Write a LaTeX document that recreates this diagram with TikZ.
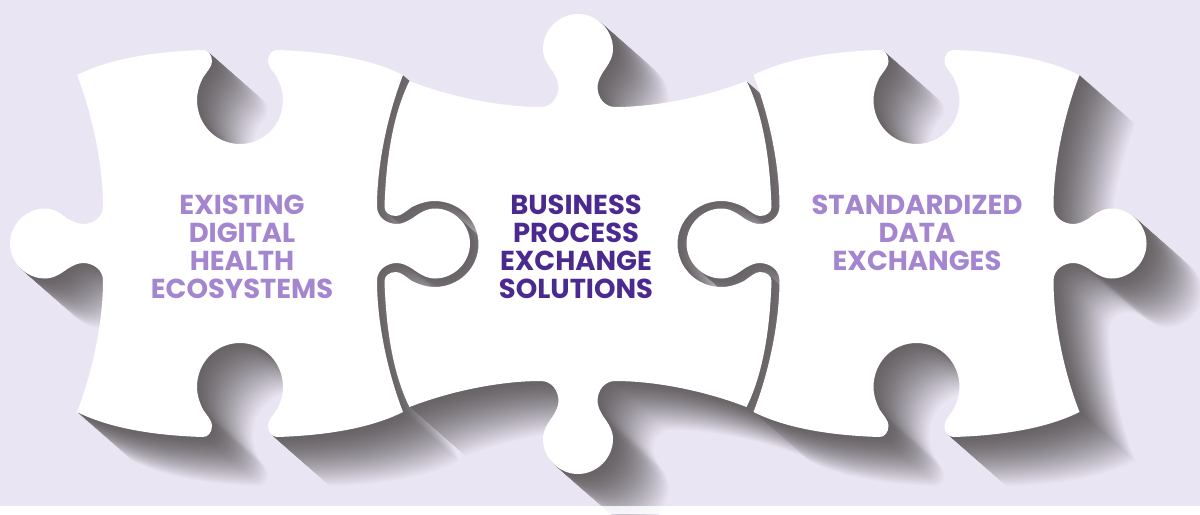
\documentclass[tikz,border=0pt]{standalone}
\usepackage{fontspec}
\setmainfont{Poppins}
\definecolor{bgl}{HTML}{EAE5F3}
\definecolor{shd}{HTML}{676366}
\definecolor{lightp}{HTML}{A485CF}
\definecolor{darkp}{HTML}{4B2A8F}
% one puzzle piece, centred on the origin: sockets top and bottom, tabs left and right
\def\piecepath{(0,-99.5)
 .. controls (24,-99.5) and (43,-119) .. (43,-143.5)
 .. controls (43,-152) and (40,-160) .. (37,-166)
 .. controls (33,-172) and (28,-177) .. (28,-182)
 .. controls (28,-189) and (32,-193.5) .. (37,-193.5)
 .. controls (85,-192) and (130,-185) .. (163,-168.5)
 .. controls (148,-130) and (137,-80) .. (137,-37)
 .. controls (137,-27) and (146,-19.5) .. (157,-19.5)
 .. controls (162,-19.5) and (167,-22) .. (172,-25)
 .. controls (179,-30) and (186,-35) .. (195,-35)
 .. controls (214,-35) and (230,-19) .. (230,0)
 .. controls (230,19) and (214,35) .. (195,35)
 .. controls (186,35) and (179,30) .. (172,25)
 .. controls (167,22) and (162,19.5) .. (157,19.5)
 .. controls (146,19.5) and (137,27) .. (137,37)
 .. controls (137,80) and (148,130) .. (163,168.5)
 .. controls (130,185) and (85,192) .. (37,193.5)
 .. controls (32,193.5) and (28,189) .. (28,182)
 .. controls (28,177) and (33,172) .. (37,166)
 .. controls (40,160) and (43,152) .. (43,143.5)
 .. controls (43,119) and (24,99.5) .. (0,99.5)
 .. controls (-24,99.5) and (-43,119) .. (-43,143.5)
 .. controls (-43,152) and (-40,160) .. (-37,166)
 .. controls (-33,172) and (-28,177) .. (-28,182)
 .. controls (-28,189) and (-32,193.5) .. (-37,193.5)
 .. controls (-85,192) and (-130,185) .. (-163,168.5)
 .. controls (-148,130) and (-137,80) .. (-137,37)
 .. controls (-137,27) and (-146,19.5) .. (-157,19.5)
 .. controls (-162,19.5) and (-167,22) .. (-172,25)
 .. controls (-179,30) and (-186,35) .. (-195,35)
 .. controls (-214,35) and (-230,19) .. (-230,0)
 .. controls (-230,-19) and (-214,-35) .. (-195,-35)
 .. controls (-186,-35) and (-179,-30) .. (-172,-25)
 .. controls (-167,-22) and (-162,-19.5) .. (-157,-19.5)
 .. controls (-146,-19.5) and (-137,-27) .. (-137,-37)
 .. controls (-137,-80) and (-148,-130) .. (-163,-168.5)
 .. controls (-130,-185) and (-85,-192) .. (-37,-193.5)
 .. controls (-32,-193.5) and (-28,-189) .. (-28,-182)
 .. controls (-28,-177) and (-33,-172) .. (-37,-166)
 .. controls (-40,-160) and (-43,-152) .. (-43,-143.5)
 .. controls (-43,-119) and (-24,-99.5) .. (0,-99.5) -- cycle}
\tikzset{
  label text/.style={font=\fontsize{15.6}{15.93}\selectfont\bfseries,align=center,inner sep=0pt},
}
\begin{document}
\begin{tikzpicture}[x=0.02cm,y=-0.02cm]
\useasboundingbox (0,0) rectangle (1200,514);
\fill[white] (0,0) rectangle (1200,514);
\fill[bgl] (0,0) rectangle (1200,505.5);
% extruded shadows, far to near
\foreach \k in {50,49,...,1}{
  \pgfmathsetmacro{\p}{100*(1-(\k/50)^1.4)}
  \pgfmathsetmacro{\sx}{\k*57/50}
  \begin{scope}[fill=shd!\p!bgl]
    \fill[shift={(240+\sx,243.5+\k)}] \piecepath;
    \fill[shift={(578+\sx,244+\k)},rotate=90] \piecepath;
    \fill[shift={(916.5+\sx,243.5+\k)}] \piecepath;
  \end{scope}
}
\fill[white,opacity=.85] (0,505.5) rectangle (1200,514);
% pieces
\fill[white,shift={(240,243.5)}] \piecepath;
\fill[white,shift={(578,244)},rotate=90] \piecepath;
\fill[white,shift={(916.5,243.5)}] \piecepath;
% labels
\node[label text,text=lightp] (leftlabel) at (242,247) {EXISTING\\DIGITAL\\HEALTH\\ECOSYSTEMS};
\node[label text,text=darkp] (midlabel) at (576,247) {BUSINESS\\PROCESS\\EXCHANGE\\SOLUTIONS};
\node[label text,text=lightp] (rightlabel) at (917,233) {STANDARDIZED\\DATA\\EXCHANGES};
\end{tikzpicture}
\end{document}
